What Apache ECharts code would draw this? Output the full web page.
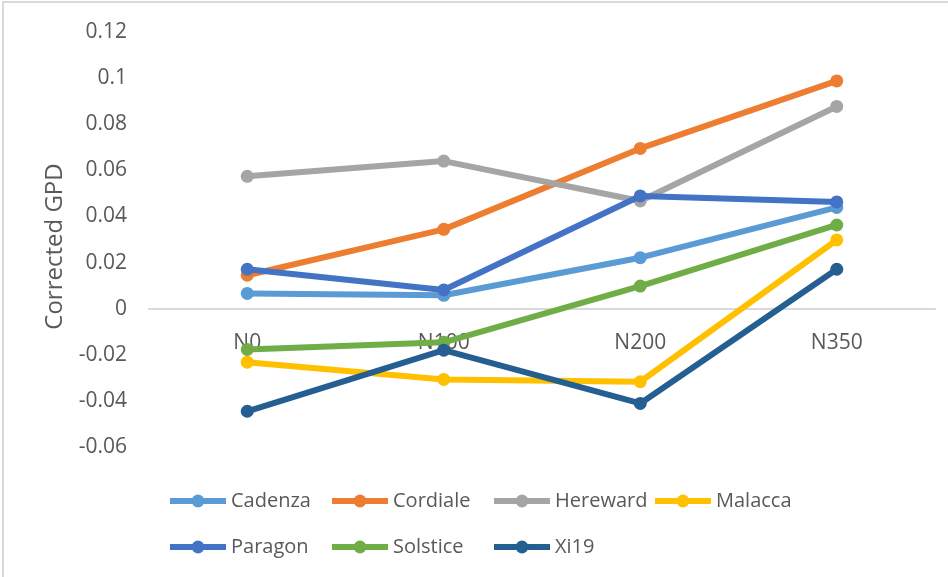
<!DOCTYPE html>
<html>
<head>
<meta charset="utf-8">
<title>Corrected GPD</title>
<script src="https://cdn.jsdelivr.net/npm/echarts@6/dist/echarts.min.js"></script>
<style>
  html, body { margin: 0; padding: 0; background: #ffffff; }
  #chart { width: 948px; height: 577px; }
</style>
</head>
<body>
<div id="chart"></div>
<script>
// Nitrogen treatments along the x axis
const categories = ['N0', 'N100', 'N200', 'N350'];

// Corrected GPD per variety
const cadenza  = [0.0066, 0.0058, 0.0221, 0.0439];
const cordiale = [0.0145, 0.0344, 0.0695, 0.0988];
const hereward = [0.0574, 0.0640, 0.0467, 0.0877];
const malacca  = [-0.0232, -0.0307, -0.0317, 0.0298];
const paragon  = [0.0171, 0.0081, 0.0489, 0.0463];
const solstice = [-0.0177, -0.0146, 0.0098, 0.0363];
const xi19     = [-0.0445, -0.0180, -0.0411, 0.0171];

const seriesNames = ['Cadenza', 'Cordiale', 'Hereward', 'Malacca', 'Paragon', 'Solstice', 'Xi19'];
const seriesData = [cadenza, cordiale, hereward, malacca, paragon, solstice, xi19];
const seriesColors = ['#5B9BD5', '#ED7D31', '#A5A5A5', '#FFC000', '#4472C4', '#70AD47', '#255E91'];

// y range and step
const yMin = -0.06;
const yMax = 0.12;
const yStep = 0.02;

const textColor = '#595959';
const font = '"Open Sans", "Liberation Sans", sans-serif';

// Legend grid: four slots per row, two rows
const legendColumns = [167, 329, 491, 652];
const legendRows = [491, 537];

const chart = echarts.init(document.getElementById('chart'), null, { renderer: 'canvas' });

const legends = seriesNames.map((name, i) => ({
  left: legendColumns[i % 4],
  top: legendRows[Math.floor(i / 4)],
  padding: 0,
  itemWidth: 56,
  itemHeight: 16,
  lineStyle: { width: 6 },
  textStyle: { color: textColor, fontFamily: font, fontSize: 20 },
  selectedMode: false,
  data: [name]
}));

chart.setOption({
  backgroundColor: '#ffffff',
  animation: false,
  color: seriesColors,
  graphic: [{
    type: 'rect',
    shape: { x: 3, y: 2, width: 2000, height: 2000 },
    style: { fill: 'none', stroke: '#D9D9D9', lineWidth: 2 },
    silent: true
  }],
  legend: legends,
  grid: { left: 149, right: 13, top: 32, bottom: 130, containLabel: false },
  xAxis: {
    type: 'category',
    data: categories,
    boundaryGap: true,
    axisLine: { onZero: false, lineStyle: { color: '#D9D9D9', width: 2 } },
    axisTick: { show: false },
    axisLabel: { color: textColor, fontFamily: font, fontSize: 21, margin: 24 },
    splitLine: { show: false }
  },
  yAxis: {
    type: 'value',
    min: yMin,
    max: yMax,
    interval: yStep,
    name: 'Corrected GPD',
    nameLocation: 'middle',
    nameGap: 82,
    nameTextStyle: { color: textColor, fontFamily: font, fontSize: 24, padding: [0, 14, 0, 0] },
    axisLine: { show: false },
    axisTick: { show: false },
    splitLine: { show: false },
    axisLabel: {
      color: textColor, fontFamily: font, fontSize: 21, margin: 22,
      formatter: v => String(Math.round(v * 100) / 100)
    }
  },
  series: seriesNames.map((name, i) => ({
    name: name,
    type: 'line',
    data: seriesData[i],
    symbol: 'circle',
    symbolSize: 13,
    lineStyle: { width: 6, color: seriesColors[i] },
    itemStyle: { color: seriesColors[i] },
    z: 2 + i
  }))
});

// Lift the category axis (line and labels) up to the value 0
const zeroY = chart.convertToPixel({ yAxisIndex: 0 }, 0);
const bottomY = chart.convertToPixel({ yAxisIndex: 0 }, yMin);
chart.setOption({ xAxis: { offset: zeroY - bottomY } });
</script>
</body>
</html>
